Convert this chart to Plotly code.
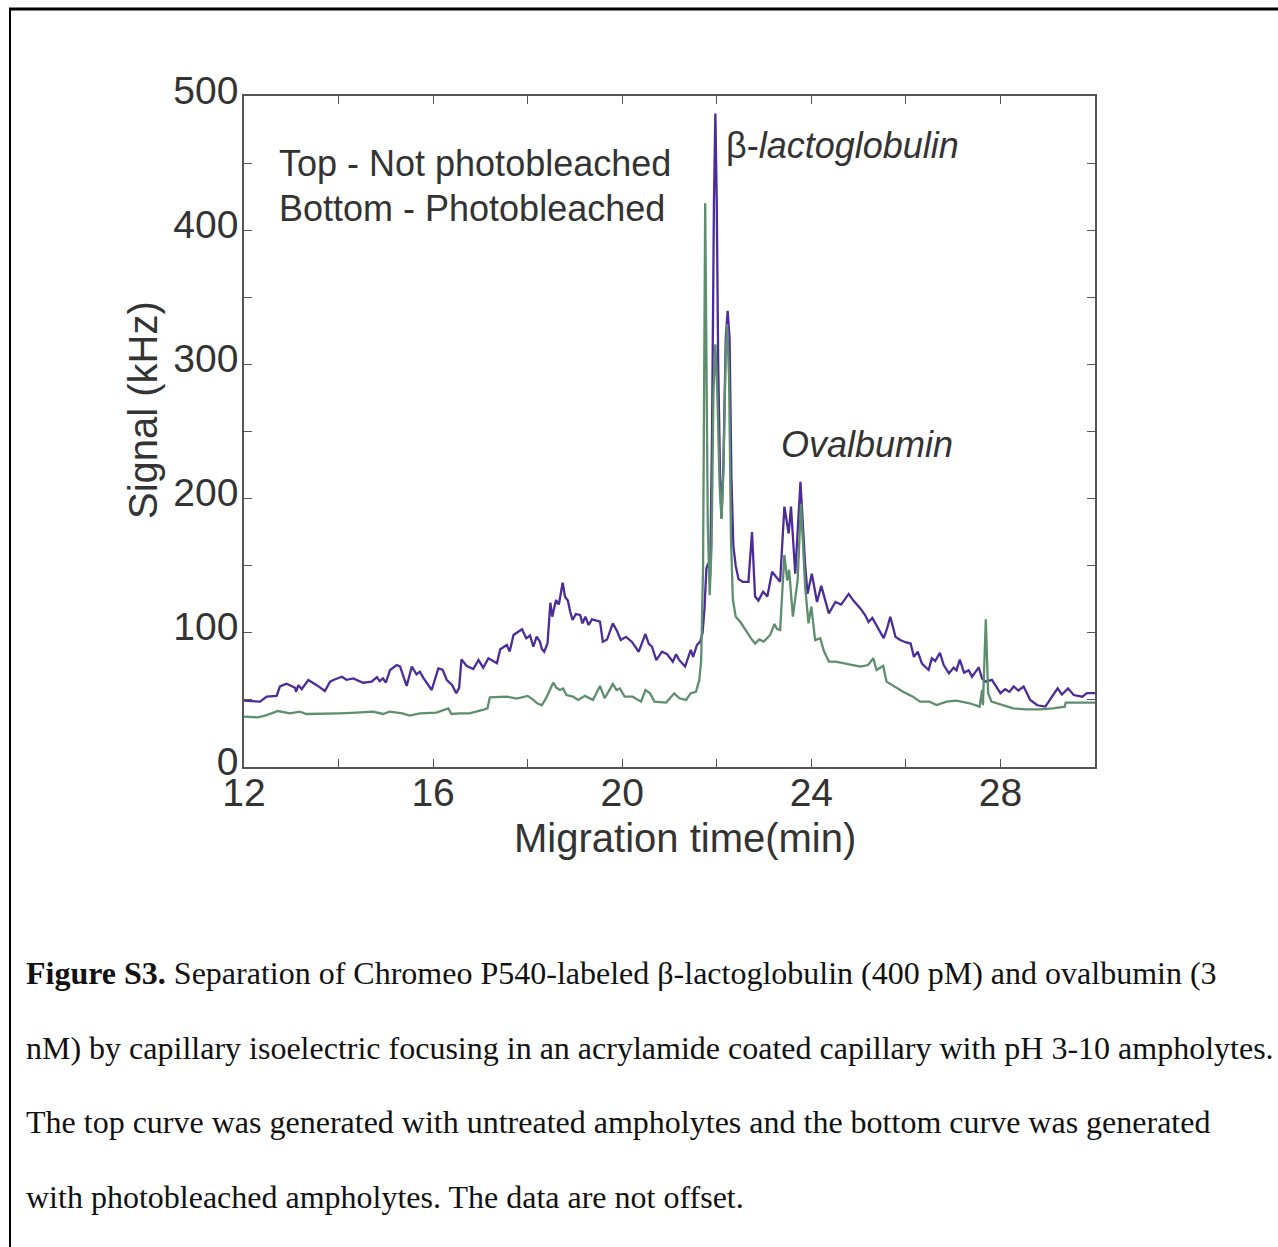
import plotly.graph_objects as go

# ---------------- data ----------------
time_top = [12.0, 12.34, 12.48, 12.69, 12.76, 12.9, 13.08, 13.1, 13.15, 13.22, 13.36, 13.54, 13.71, 13.82, 13.89,
            14.07, 14.17, 14.31, 14.52, 14.7, 14.81, 14.87, 14.94, 15.0, 15.09, 15.23, 15.3, 15.36, 15.44, 15.55,
            15.65, 15.72, 15.8, 15.97, 16.11, 16.2, 16.29, 16.4, 16.49, 16.55, 16.6, 16.71, 16.85, 16.96, 17.06,
            17.17, 17.35, 17.42, 17.56, 17.62, 17.7, 17.88, 17.97, 18.05, 18.12, 18.19, 18.26, 18.3, 18.35, 18.42,
            18.48, 18.52, 18.6, 18.66, 18.7, 18.74, 18.79, 18.85, 18.9, 18.95, 19.02, 19.11, 19.16, 19.22, 19.29,
            19.36, 19.46, 19.53, 19.59, 19.68, 19.8, 19.88, 19.97, 20.08, 20.2, 20.35, 20.49, 20.56, 20.63, 20.72,
            20.84, 20.95, 21.07, 21.14, 21.2, 21.33, 21.45, 21.5, 21.58, 21.65,
            21.70, 21.74, 21.78, 21.82, 21.86, 21.90, 21.94, 21.97, 22.00, 22.03, 22.07, 22.10, 22.14, 22.19,
            22.23, 22.27, 22.31, 22.35, 22.40, 22.46, 22.55, 22.67, 22.745, 22.81, 22.88, 22.98, 23.07, 23.17,
            23.27, 23.34, 23.43, 23.52, 23.57, 23.66, 23.77, 23.87, 23.92, 24.01, 24.12, 24.21, 24.37, 24.51,
            24.63, 24.79, 24.89, 25.04, 25.14, 25.21, 25.29, 25.35, 25.42, 25.53, 25.6, 25.67, 25.78, 25.88,
            25.99, 26.1, 26.17, 26.25, 26.34, 26.48, 26.55, 26.62, 26.72, 26.8, 26.91, 27.01, 27.07, 27.14,
            27.23, 27.33, 27.4, 27.54, 27.61, 27.68, 27.82, 27.89, 28.0, 28.1, 28.19, 28.28, 28.38, 28.49,
            28.63, 28.78, 28.95, 29.09, 29.21, 29.3, 29.43, 29.55, 29.73, 29.83, 30.0]
signal_top = [49.4, 48.7, 52.4, 53, 60, 62, 59, 56, 61, 58, 64.8, 61, 56.6, 63.6, 64.8,
              67.3, 65, 66, 62.8, 63.6, 67, 64, 66, 62.8, 72.3, 76, 75, 68.6, 60.4, 74.8,
              69, 71, 66, 57.4, 73.5, 72.5, 64.8, 61.1, 54.9, 59, 80.2, 75.3, 73, 79.7, 74,
              81, 77.3, 87.7, 90.9, 86, 98.4, 102.6, 95.9, 98, 89.6, 97.1, 93.4, 88, 85.9, 92,
              122.4, 112, 124.4, 121, 128, 137.3, 126.9, 124, 115.7, 109.5, 114, 113.3, 107, 112, 105.8,
              110, 109, 108.3, 93.4, 95, 107, 102, 94.6, 97, 93.4, 85.9, 99.1, 92, 89.6, 79.7,
              85.9, 84, 78.5, 84, 80, 74.8, 87.2, 82, 90.9, 93.4,
              100, 118, 148, 152, 142, 250, 420, 487, 420, 300, 215, 185, 225, 320,
              340, 320, 215, 165, 150, 140, 138, 138, 175, 127, 124, 130.6, 127, 145.5,
              141, 138, 194, 174, 194, 144, 212.6, 150, 129, 144, 123, 135, 114.5, 123,
              121, 129, 124, 118, 113, 108, 111, 107, 103, 96, 103, 112, 97, 94.6,
              93, 92, 82, 86, 77, 72.3, 81, 79, 85, 76, 69.8, 74, 72, 80,
              70.3, 72, 67.3, 74.3, 66, 63.6, 65, 61, 55, 58, 56, 60, 57, 60,
              50, 46, 45, 52.4, 58.6, 54, 58.6, 53.6, 52.4, 55, 55]

time_bottom = [12.0, 12.3, 12.48, 12.72, 12.97, 13.18, 13.32, 13.67, 14.03, 14.38, 14.73, 14.94, 15.08, 15.35,
               15.5, 15.72, 16.07, 16.32, 16.39, 16.56, 16.77, 17.05, 17.15, 17.2, 17.4, 17.56, 17.77, 18.0,
               18.12, 18.2, 18.3, 18.4, 18.54, 18.61, 18.68, 18.75, 18.82, 18.96, 19.07, 19.21, 19.38, 19.53,
               19.63, 19.8, 19.88, 19.95, 20.05, 20.22, 20.4, 20.49, 20.59, 20.68, 20.93, 21.1, 21.21, 21.35,
               21.45, 21.56, 21.63, 21.67, 21.71, 21.73, 21.755, 21.78, 21.81, 21.85, 21.89, 21.93, 21.97,
               22.01, 22.06, 22.10, 22.14, 22.19, 22.22, 22.26, 22.30, 22.34, 22.40, 22.5, 22.64, 22.72, 22.81,
               22.9, 22.99, 23.13, 23.22, 23.27, 23.34, 23.43, 23.49, 23.53, 23.61, 23.71, 23.78, 23.87, 23.94,
               24.0, 24.08, 24.19, 24.26, 24.37, 24.51, 24.76, 25.04, 25.2, 25.31, 25.38, 25.52, 25.59, 25.73,
               25.94, 26.15, 26.3, 26.5, 26.65, 26.86, 27.07, 27.35, 27.56, 27.61, 27.63, 27.69, 27.74, 27.81,
               28.06, 28.27, 28.55, 28.83, 29.11, 29.36, 29.38, 30.0]
signal_bottom = [37.5, 37, 38.7, 41.7, 40, 41.2, 39.5, 39.5, 40, 40.5, 41.2, 39.5, 41.2, 40,
                 38.3, 40, 40.5, 43.7, 39.5, 40, 40, 42.5, 43.7, 51.9, 51.9, 52.4, 51, 53,
                 50, 47.5, 46, 52, 62.8, 59, 57.4, 58.5, 53.6, 52.4, 50, 53, 50, 60.4,
                 51.2, 61.8, 57.4, 58.5, 52.4, 52.4, 48.7, 57.4, 55, 48.7, 48, 54.9, 51.2, 50,
                 55, 56, 64.8, 79.7, 150, 300, 420, 310, 180, 128, 165, 280, 315,
                 280, 210, 185, 220, 310, 330, 290, 170, 125, 112, 108, 100, 96, 92,
                 95, 93.4, 98.4, 106.6, 103, 102, 158, 139, 147, 112, 139, 196, 134, 107,
                 119.5, 94.6, 96, 87, 78.5, 78.5, 77, 74.8, 76, 81, 72.3, 75.3, 63.6, 60.4,
                 56, 52.4, 48.7, 48.7, 46.2, 48.7, 49.4, 47.5, 45, 57.4, 46, 110, 55, 48.7,
                 46.2, 43.7, 43, 43, 43.7, 45, 48, 48]

x_tick_values = [12, 14, 16, 18, 20, 22, 24, 26, 28, 30]
x_tick_labels = ["12", "", "16", "", "20", "", "24", "", "28", ""]
y_tick_values = [0, 50, 100, 150, 200, 250, 300, 350, 400, 450, 500]
y_tick_labels = ["0", "", "100", "", "200", "", "300", "", "400", "", "500"]

caption_lines = [
    "<b>Figure S3.</b> Separation of Chromeo P540-labeled β-lactoglobulin (400 pM) and ovalbumin (3",
    "nM) by capillary isoelectric focusing in an acrylamide coated capillary with pH 3-10 ampholytes.",
    "The top curve was generated with untreated ampholytes and the bottom curve was generated",
    "with photobleached ampholytes. The data are not offset.",
]

# ---------------- layout geometry ----------------
W, H = 1278, 1247
L, R, T, B = 244, 1095, 96, 767  # plot area in px


def px(xp):
    return (xp - L) / (R - L)


def py(yp):
    return (B - yp) / (B - T)


SANS = "Liberation Sans, Arial, Helvetica, sans-serif"
SERIF = "Liberation Serif, Times New Roman, serif"
TXT = "#333333"

fig = go.Figure()
fig.add_trace(go.Scatter(x=time_top, y=signal_top, mode="lines",
                         line=dict(color="#4b2c98", width=2.3), name="Not photobleached"))
fig.add_trace(go.Scatter(x=time_bottom, y=signal_bottom, mode="lines",
                         line=dict(color="#5d8e6e", width=2.3), name="Photobleached"))

axis_common = dict(showgrid=False, zeroline=False, showline=True, linecolor="#555555", linewidth=1.5,
                   mirror="ticks", ticks="inside", ticklen=8, tickwidth=1.2, tickcolor="#555555",
                   tickfont=dict(family=SANS, size=39, color=TXT))

fig.update_xaxes(range=[12, 30], tickmode="array", tickvals=x_tick_values, ticktext=x_tick_labels,
                 ticklabelstandoff=-10, **axis_common)
fig.update_yaxes(range=[0, 500], tickmode="array", tickvals=y_tick_values, ticktext=y_tick_labels,
                 ticklabelstandoff=-4, ticklabelshift=-6, **axis_common)

annotations = [
    dict(x=px(685), y=py(838), text="Migration time(min)", xanchor="center", yanchor="middle",
         font=dict(family=SANS, size=40, color=TXT)),
    dict(x=px(143), y=py(410), text="Signal (kHz)", xanchor="center", yanchor="middle", textangle=-90,
         font=dict(family=SANS, size=40, color=TXT)),
    dict(x=px(277), y=py(163), text="Top - Not photobleached", xanchor="left", yanchor="middle",
         font=dict(family=SANS, size=36, color=TXT)),
    dict(x=px(277), y=py(208), text="Bottom - Photobleached", xanchor="left", yanchor="middle",
         font=dict(family=SANS, size=36, color=TXT)),
    dict(x=px(724), y=py(145), text="β-<i>lactoglobulin</i>", xanchor="left", yanchor="middle",
         font=dict(family=SANS, size=36, color=TXT)),
    dict(x=px(779), y=py(444), text="<i>Ovalbumin</i>", xanchor="left", yanchor="middle",
         font=dict(family=SANS, size=36, color=TXT)),
]
for i, line in enumerate(caption_lines):
    annotations.append(dict(x=px(24), y=py(973 + i * 74.5), text=line, xanchor="left", yanchor="middle",
                            font=dict(family=SERIF, size=32, color="#111111")))
for a in annotations:
    a.update(xref="paper", yref="paper", showarrow=False)

shapes = [
    dict(type="line", xref="paper", yref="paper", x0=px(9), x1=px(1290), y0=py(9), y1=py(9),
         line=dict(color="black", width=3)),
    dict(type="line", xref="paper", yref="paper", x0=px(10), x1=px(10), y0=py(8), y1=py(1260),
         line=dict(color="black", width=2)),
]

fig.update_layout(width=W, height=H, margin=dict(l=L, r=W - R, t=T, b=H - B),
                  paper_bgcolor="white", plot_bgcolor="white", showlegend=False,
                  annotations=annotations, shapes=shapes)

fig.write_html("out.html")
